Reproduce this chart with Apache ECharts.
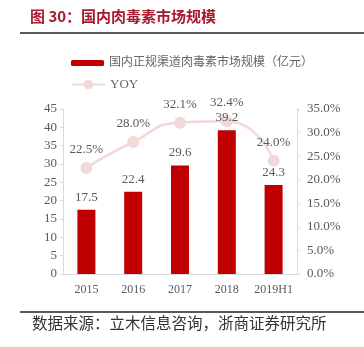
<!DOCTYPE html>
<html><head><meta charset="utf-8">
<script src="https://cdn.jsdelivr.net/npm/echarts@6/dist/echarts.min.js"></script>
<style>html,body{margin:0;padding:0;background:#fff}#c{width:364px;height:347px}</style>
</head><body><div id="c"></div>
<script>
const categories = ['2015', '2016', '2017', '2018', '2019H1'];
const marketSize = [17.5, 22.4, 29.6, 39.2, 24.3];
const yoy = [22.5, 28.0, 32.1, 32.4, 24.0];
const barName = '国内正规渠道肉毒素市场规模（亿元）';
const lineName = 'YOY';

const serif = '"Liberation Serif", "Noto Sans CJK SC", serif';
const chart = echarts.init(document.getElementById('c'), null, {renderer: 'canvas'});
chart.setOption({
  animation: false,
  backgroundColor: '#fff',
  grid: {left: 63, right: 67, top: 109, bottom: 73},
  legend: [
    {data: [barName], left: 66, top: 52, itemWidth: 33, itemHeight: 6, itemGap: 4,
     textStyle: {fontSize: 12, color: '#666', fontFamily: serif}},
    {data: [lineName], left: 66, top: 73, itemWidth: 33, itemHeight: 12, itemGap: 4,
     textStyle: {fontSize: 13, color: '#666', fontFamily: serif}}
  ],
  graphic: [
    {type: 'text', left: 30, top: 9, style: {text: '图 30：国内肉毒素市场规模', fontSize: 15, fontWeight: 'bold', fill: '#a6192e', fontFamily: '"Noto Sans CJK SC", sans-serif'}},
    {type: 'line', shape: {x1: 20, y1: 33, x2: 364, y2: 33}, style: {stroke: '#222', lineWidth: 1.5}},
    {type: 'line', shape: {x1: 20, y1: 312, x2: 364, y2: 312}, style: {stroke: '#222', lineWidth: 1.5}},
    {type: 'text', left: 32, top: 315, style: {text: '数据来源：立木信息咨询，浙商证券研究所', fontSize: 15.5, fill: '#333', fontFamily: '"Noto Sans CJK SC", sans-serif'}}
  ],
  xAxis: {
    type: 'category', data: categories,
    axisLine: {lineStyle: {color: '#d9d9d9'}},
    axisTick: {show: false},
    axisLabel: {color: '#595959', fontSize: 12, fontFamily: serif, margin: 10, interval: 0}
  },
  yAxis: [
    {type: 'value', min: 0, max: 45, interval: 5,
     axisLine: {show: true, lineStyle: {color: '#d9d9d9'}},
     axisTick: {show: true, length: 3, lineStyle: {color: '#d9d9d9'}},
     splitLine: {show: false},
     axisLabel: {color: '#595959', fontSize: 13, fontFamily: serif, margin: 6}},
    {type: 'value', min: 0, max: 35, interval: 5, position: 'right',
     axisLine: {show: true, lineStyle: {color: '#d9d9d9'}},
     axisTick: {show: true, length: 3, lineStyle: {color: '#d9d9d9'}},
     splitLine: {show: false},
     axisLabel: {color: '#595959', fontSize: 13, fontFamily: serif, margin: 10,
       formatter: v => v.toFixed(1) + '%'}}
  ],
  series: [
    {name: barName, type: 'bar', data: marketSize, barWidth: 18, z: 3,
     itemStyle: {color: '#c00000'},
     label: {show: true, position: 'top', distance: 6, color: '#595959', fontSize: 13, fontFamily: serif}},
    {name: lineName, type: 'line', yAxisIndex: 1, data: yoy, smooth: 0.6, z: 2,
     symbol: 'circle', symbolSize: 12,
     lineStyle: {color: '#f2d9d9', width: 2.5},
     itemStyle: {color: '#f2d9d9'},
     label: {show: true, position: 'top', distance: 6, color: '#595959', fontSize: 13, fontFamily: serif,
       formatter: p => p.value.toFixed(1) + '%'}}
  ]
});
</script></body></html>
